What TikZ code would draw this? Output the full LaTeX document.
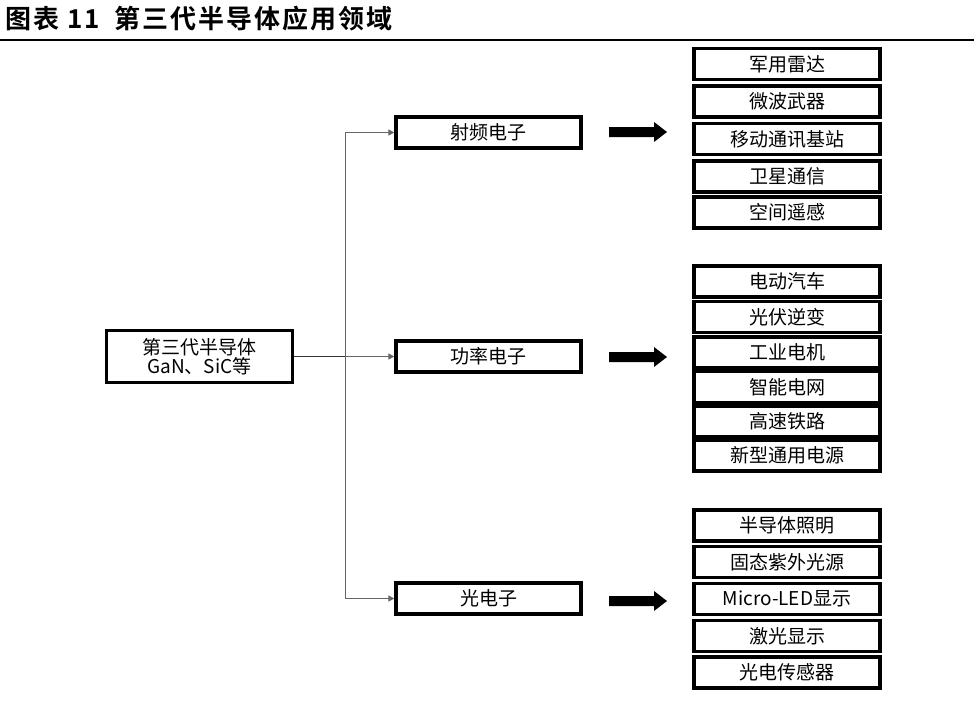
\documentclass[tikz,border=0pt]{standalone}
\usepackage{fontspec}
\setmainfont{Noto Sans CJK SC}
\newfontfamily\titlefont{Noto Sans CJK SC}[BoldFont={* Bold},BoldFeatures={LetterSpace=8}]
\usetikzlibrary{arrows.meta}
\begin{document}
\begin{tikzpicture}[x=1pt,y=-1pt,
  box/.style={draw=black,line width=3.2pt,minimum height=31pt,inner sep=0pt,font=\fontsize{19}{20}\selectfont,fill=white},
  leaf/.style={box,minimum width=186pt},
  mid/.style={box,minimum width=185pt},
  conn/.style={draw=gray!80!black,line width=0.8pt,-{Triangle[length=6pt,width=6pt]}},
  bigarrow/.style={fill=black}]
\useasboundingbox (0,0) rectangle (974,702);
% title
\node[anchor=west,inner sep=0pt,font=\titlefont\bfseries\fontsize{26}{28}\selectfont] (title) at (5,19) {图表\hspace{8pt}11\hspace{14pt}第三代半导体应用领域};
\draw[line width=2.5pt] (0,40) -- (974,40);
% source
\node[box,minimum width=186pt,minimum height=52pt,align=center,font=\fontsize{19}{19.5}\selectfont] (src) at (199.5,356.5) {第三代半导体\\GaN、SiC等};
% middle boxes
\node[mid] (rf) at (488.5,132.5) {射频电子};
\node[mid] (pw) at (488.5,356.5) {功率电子};
\node[mid] (op) at (488.5,598.5) {光电子};
% connectors
\coordinate (j) at (345,356.5);
\draw[line width=0.8pt,black!80] (src.east) -- (j);
\draw[conn] (j) -- (pw.west);
\draw[conn] (j) |- (rf.west);
\draw[conn] (j) |- (op.west);
% big arrows
\foreach \y/\n in {132/a1,357/a2,601/a3}{
  \fill[bigarrow] (609,\y-5) -- (654,\y-5) -- (654,\y-10) -- (667,\y) -- (654,\y+10) -- (654,\y+5) -- (609,\y+5) -- cycle;
}
% RF group
\node[leaf] (r1) at (787,64) {军用雷达};
\node[leaf] (r2) at (787,101.5) {微波武器};
\node[leaf] (r3) at (787,139) {移动通讯基站};
\node[leaf] (r4) at (787,176.5) {卫星通信};
\node[leaf] (r5) at (787,212.5) {空间遥感};
% power group
\node[leaf] (p1) at (787,281.5) {电动汽车};
\node[leaf] (p2) at (787,317) {光伏逆变};
\node[leaf] (p3) at (787,352.5) {工业电机};
\node[leaf] (p4) at (787,387) {智能电网};
\node[leaf] (p5) at (787,421.5) {高速铁路};
\node[leaf] (p6) at (787,455.5) {新型通用电源};
% optical group
\node[leaf] (o1) at (787,525.5) {半导体照明};
\node[leaf] (o2) at (787,562) {固态紫外光源};
\node[leaf] (o3) at (787,599) {Micro-LED显示};
\node[leaf] (o4) at (787,636) {激光显示};
\node[leaf] (o5) at (787,672.5) {光电传感器};
\end{tikzpicture}
\end{document}
